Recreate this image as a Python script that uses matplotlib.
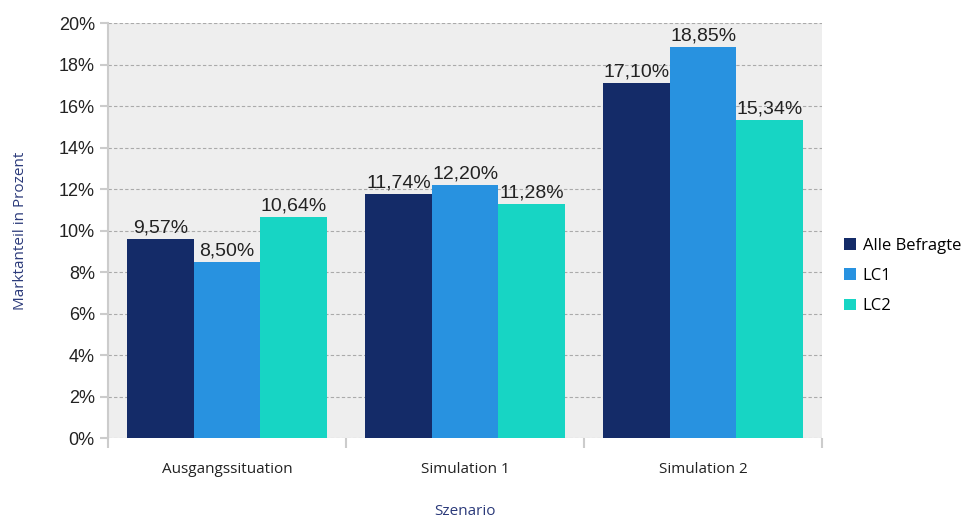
import numpy as np
import matplotlib.pyplot as plt
from matplotlib.ticker import MultipleLocator, FuncFormatter

szenarien = ['Ausgangssituation', 'Simulation 1', 'Simulation 2']
serien = ['Alle Befragte', 'LC1', 'LC2']
alle = [9.57, 11.74, 17.10]
lc1 = [8.50, 12.20, 18.85]
lc2 = [10.64, 11.28, 15.34]
farben = ['#142b68', '#2892e0', '#17d5c4']

fig = plt.figure(figsize=(9.66, 5.23), dpi=100)
ax = fig.add_axes([0.1118, 0.1625, 0.7393, 0.7935])
ax.set_facecolor('#eeeeee')

x = np.arange(len(szenarien))
breite = 0.28
for i, (werte, name) in enumerate(zip([alle, lc1, lc2], serien)):
    pos = x + (i - 1) * breite
    ax.bar(pos, werte, breite, color=farben[i], label=name, zorder=3)
    for p, w in zip(pos, werte):
        ax.text(p, w + 0.12, '{:.2f}%'.format(w).replace('.', ','),
                ha='center', va='bottom', fontsize=14,
                family='Liberation Sans', color='#222222', zorder=4)

ax.set_xlim(-0.5, 2.5)
ax.set_ylim(0, 20)
ax.yaxis.set_major_locator(MultipleLocator(2))
ax.yaxis.set_major_formatter(FuncFormatter(lambda v, _: '{:.0f}%'.format(v)))
ax.grid(axis='y', color='#aaaaaa', linestyle=(0, (3, 2)), linewidth=0.8, zorder=0)

ax.set_xticks(x)
ax.set_xticklabels(szenarien, fontsize=11, family='Open Sans', color='#222222')
ax.set_xticks([-0.5, 0.5, 1.5, 2.5], minor=True)
ax.tick_params(axis='x', which='major', length=0, pad=17)
ax.tick_params(axis='x', which='minor', length=7, color='#cccccc', width=1.5)
ax.tick_params(axis='y', length=6, color='#cccccc', width=1.5, labelsize=13,
               labelcolor='#222222')
for lbl in ax.get_yticklabels():
    lbl.set_family('Liberation Sans')

for s in ['top', 'right', 'bottom']:
    ax.spines[s].set_visible(False)
ax.spines['left'].set_color('#cccccc')
ax.spines['left'].set_linewidth(1.5)

ax.set_ylabel('Marktanteil in Prozent', fontsize=11, family='Open Sans',
              color='#2b3a7a', labelpad=22)
ax.set_xlabel('Szenario', fontsize=11, family='Open Sans', color='#2b3a7a',
              labelpad=20)

ax.legend(loc='center left', bbox_to_anchor=(1.01, 0.39), frameon=False,
          handlelength=0.7, handleheight=0.7, handletextpad=0.4,
          labelspacing=0.85, prop={'family': 'Open Sans', 'size': 12})

fig.savefig('out.png', dpi=100)
